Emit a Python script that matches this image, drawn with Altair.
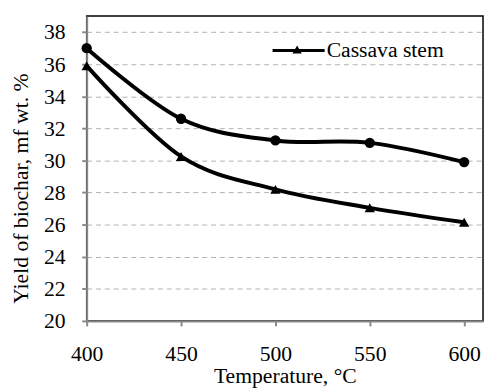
import altair as alt
import pandas as pd

temps = [400, 450, 500, 550, 600]
series_a = [37.0, 32.6, 31.25, 31.1, 29.9]   # circle markers (unlabelled)
series_b = [35.9, 30.25, 28.2, 27.05, 26.15]  # Cassava stem (triangles)
legend_label = "Cassava stem"
y_ticks = [20, 22, 24, 26, 28, 30, 32, 34, 36, 38]
x_ticks = [400, 450, 500, 550, 600]

df_a = pd.DataFrame({"T": temps, "Y": series_a})
df_b = pd.DataFrame({"T": temps, "Y": series_b})

FONT = "Liberation Serif"
FS = 22
xs = alt.Scale(domain=[400, 610], nice=False, zero=False)
ys = alt.Scale(domain=[20, 39], nice=False, zero=False)

xenc = alt.X("T:Q", scale=xs, axis=alt.Axis(
    values=x_ticks, title="Temperature, °C", grid=False,
    domainColor="#888888", domainWidth=2, tickColor="#888888", tickWidth=2,
    tickSize=5, labelPadding=18, labelFontSize=FS, labelFont=FONT,
    labelColor="black", titleFont=FONT, titleFontSize=FS, labelOverlap=False,
    titleFontWeight="normal", titleColor="black", titlePadding=2,
    labelFlush=False))
yenc = alt.Y("Y:Q", scale=ys, axis=alt.Axis(
    values=y_ticks, title="Yield of biochar, mf wt. %", grid=True,
    gridColor="#b0b0b0", gridDash=[5, 4], gridWidth=1,
    domainColor="#888888", domainWidth=2, tickColor="#888888", tickWidth=2,
    tickSize=5, labelPadding=17, labelFontSize=FS, labelFont=FONT, labelOverlap=False,
    labelColor="black", titleFont=FONT, titleFontSize=FS, titleY=175,
    titleFontWeight="normal", titleColor="black", titlePadding=11))

base_a = alt.Chart(df_a).encode(x=xenc, y=yenc)
base_b = alt.Chart(df_b).encode(x=xenc, y=yenc)
line_a = base_a.mark_line(color="black", strokeWidth=4, interpolate="cardinal")
pts_a = base_a.mark_point(shape="circle", filled=True, color="black", size=110, opacity=1)
line_b = base_b.mark_line(color="black", strokeWidth=4, interpolate="cardinal")
pts_b = base_b.mark_point(shape="triangle-up", filled=True, color="black", size=110, opacity=1)

leg_df = pd.DataFrame({"label": [legend_label]})
leg_line = alt.Chart(leg_df).mark_rule(color="black", strokeWidth=3).encode(
    x=alt.value(189), x2=alt.value(242), y=alt.value(35))
leg_pt = alt.Chart(leg_df).mark_point(shape="triangle-up", filled=True, color="black", size=90, opacity=1).encode(
    x=alt.value(214), y=alt.value(34))
leg_txt = alt.Chart(leg_df).mark_text(align="left", baseline="middle", font=FONT, fontSize=FS, color="black").encode(
    x=alt.value(244), y=alt.value(35), text="label:N")

chart = alt.layer(line_a, pts_a, line_b, pts_b, leg_line, leg_pt, leg_txt).properties(
    width=403, height=310,
    autosize=alt.AutoSizeParams(type="none"),
    padding={"left": 80, "top": 5, "right": 1, "bottom": 67},
).configure(background="white", font=FONT).configure_view(stroke="black", strokeWidth=1.5)

chart.save("out.html", embed_options={"renderer": "svg", "actions": False})
